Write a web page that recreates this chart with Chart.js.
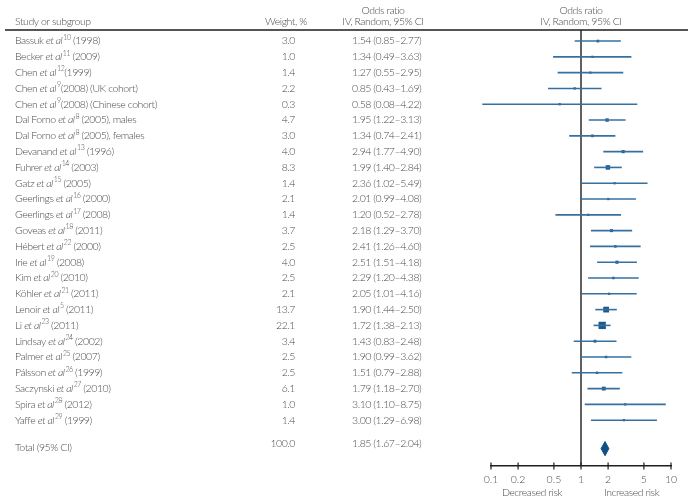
<!DOCTYPE html>
<html lang="en">
<head>
  <meta charset="UTF-8" />
  <title>Forest plot - odds ratios</title>
  <script src="https://cdn.jsdelivr.net/npm/chart.js"></script>
  <style>
    html, body {
      margin: 0;
      padding: 0;
      background: #fff;
    }
    .wrap {
      position: relative;
      width: 688px;
      height: 504px;
    }
  </style>
</head>
<body>
  <div class="wrap"><canvas id="forest"></canvas></div>

  <script>
    // study table
    const authors = ["Bassuk", "Becker", "Chen", "Chen", "Chen", "Dal Forno", "Dal Forno", "Devanand",
      "Fuhrer", "Gatz", "Geerlings", "Geerlings", "Goveas", "Hébert", "Irie", "Kim", "Köhler", "Lenoir",
      "Li", "Lindsay", "Palmer", "Pálsson", "Saczynski", "Spira", "Yaffe"];
    const refs = ["10", "11", "12", "9", "9", "8", "8", "13", "14", "15", "16", "17", "18", "22", "19",
      "20", "21", "5", "23", "24", "25", "26", "27", "28", "29"];
    const years = [" (1998)", " (2009)", "(1999)", "(2008) (UK cohort)", "(2008) (Chinese cohort)",
      " (2005), males", " (2005), females", " (1996)", " (2003)", " (2005)", " (2000)", " (2008)",
      " (2011)", " (2000)", " (2008)", " (2010)", " (2011)", " (2011)", " (2011)", " (2002)", " (2007)",
      " (1999)", " (2010)", " (2012)", " (1999)"];
    const weights = [3.0, 1.0, 1.4, 2.2, 0.3, 4.7, 3.0, 4.0, 8.3, 1.4, 2.1, 1.4, 3.7, 2.5, 4.0, 2.5, 2.1,
      13.7, 22.1, 3.4, 2.5, 2.5, 6.1, 1.0, 1.4];
    const oddsRatios = [1.54, 1.34, 1.27, 0.85, 0.58, 1.95, 1.34, 2.94, 1.99, 2.36, 2.01, 1.20, 2.18, 2.41,
      2.51, 2.29, 2.05, 1.90, 1.72, 1.43, 1.90, 1.51, 1.79, 3.10, 3.00];
    const ciLow = [0.85, 0.49, 0.55, 0.43, 0.08, 1.22, 0.74, 1.77, 1.40, 1.02, 0.99, 0.52, 1.29, 1.26, 1.51,
      1.20, 1.01, 1.44, 1.38, 0.83, 0.99, 0.79, 1.18, 1.10, 1.29];
    const ciHigh = [2.77, 3.63, 2.95, 1.69, 4.22, 3.13, 2.41, 4.90, 2.84, 5.49, 4.08, 2.78, 3.70, 4.60, 4.18,
      4.38, 4.16, 2.50, 2.13, 2.48, 3.62, 2.88, 2.70, 8.75, 6.98];

    const totalWeight = [100.0];
    const totalOR = [1.85];
    const totalCI = [1.67, 2.04];

    const xTicks = [0.1, 0.2, 0.5, 1, 2, 5, 10];

    const totalRow = 25.8;
    const fontFamily = "Lato, 'Open Sans', sans-serif";
    const baseFont = "300 10.5px " + fontFamily;
    const tightSpacing = "-0.45px";
    const textColor = "#4a4a4a";
    const ciColor = "#3570a1";
    const boxColor = "#195a8f";

    const fmt = v => v.toFixed(2);
    const ciText = (o, l, h) => fmt(o) + " (" + fmt(l) + "–" + fmt(h) + ")";

    // draws "Name et al^ref (year)" piece by piece
    function drawStudy(ctx, i, x, y) {
      const parts = [
        { t: authors[i] + " ", f: baseFont, dy: 0, gap: 0 },
        { t: "et al", f: "italic " + baseFont, dy: 0, gap: 1 },
        { t: refs[i], f: "300 7px " + fontFamily, dy: -3.5, gap: 0 },
        { t: years[i], f: baseFont, dy: 0, gap: 0 }
      ];
      for (const p of parts) {
        ctx.font = p.f;
        ctx.fillText(p.t, x, y + p.dy);
        x += ctx.measureText(p.t).width + p.gap;
      }
    }

    const forestText = {
      id: "forestText",
      beforeDatasetsDraw(chart) {
        const { ctx, chartArea, scales: { x } } = chart;
        const x1 = x.getPixelForValue(1);
        ctx.save();
        ctx.strokeStyle = "#1e1e1e";
        ctx.lineWidth = 1.4;
        ctx.beginPath();
        ctx.moveTo(5, chartArea.top);
        ctx.lineTo(chart.width, chartArea.top);
        ctx.moveTo(x1, chartArea.top);
        ctx.lineTo(x1, chartArea.bottom);
        ctx.stroke();
        // tick marks crossing the axis line
        ctx.lineWidth = 1.2;
        ctx.beginPath();
        for (const t of x.ticks) {
          const px = x.getPixelForValue(t.value);
          ctx.moveTo(px, chartArea.bottom - 3.5);
          ctx.lineTo(px, chartArea.bottom + 3.5);
        }
        ctx.stroke();
        ctx.restore();
      },
      afterDraw(chart) {
        const { ctx, scales: { x, y } } = chart;
        ctx.save();
        ctx.fillStyle = textColor;
        ctx.textBaseline = "middle";
        ctx.font = baseFont;
        ctx.letterSpacing = tightSpacing;

        // headers
        ctx.textAlign = "left";
        ctx.fillText("Study or subgroup", 15, 22);
        ctx.textAlign = "center";
        ctx.fillText("Weight, %", 286, 22);
        ctx.fillText("Odds ratio", 383, 11);
        ctx.fillText("IV, Random, 95% CI", 383, 22);
        const x1 = x.getPixelForValue(1);
        ctx.fillText("Odds ratio", x1, 11);
        ctx.fillText("IV, Random, 95% CI", x1, 22);

        // rows
        authors.forEach((a, i) => {
          const py = y.getPixelForValue(i);
          ctx.textAlign = "left";
          drawStudy(ctx, i, 15, py);
          ctx.font = baseFont;
          ctx.textAlign = "right";
          ctx.fillText(weights[i].toFixed(1), 295, py);
          ctx.textAlign = "left";
          ctx.fillText(ciText(oddsRatios[i], ciLow[i], ciHigh[i]), 352, py);
        });

        const ty = y.getPixelForValue(totalRow);
        ctx.textAlign = "left";
        ctx.fillText("Total (95% CI)", 15, ty - 1);
        ctx.textAlign = "right";
        ctx.fillText(totalWeight[0].toFixed(1), 295, ty - 5);
        ctx.textAlign = "left";
        ctx.fillText(ciText(totalOR[0], totalCI[0], totalCI[1]), 352, ty - 5);

        // risk captions under the axis
        ctx.textAlign = "center";
        ctx.fillText("Decreased risk", x.getPixelForValue(0.285), 493);
        ctx.fillText("Increased risk", x.getPixelForValue(3.65), 493);
        ctx.restore();
      }
    };

    const ciSets = authors.map((a, i) => ({
      data: [{ x: ciLow[i], y: i }, { x: ciHigh[i], y: i }],
      borderColor: ciColor,
      borderWidth: 1.6,
      pointRadius: 0,
      fill: false,
      clip: false
    }));

    const boxSet = {
      data: oddsRatios.map((v, i) => ({ x: v, y: i })),
      showLine: false,
      pointStyle: "rect",
      pointRadius: weights.map(w => Math.max(1.6, 1.1 * Math.sqrt(w))),
      pointBackgroundColor: boxColor,
      pointBorderWidth: 0,
      clip: false
    };

    const diamondSet = {
      data: [
        { x: totalCI[0], y: totalRow },
        { x: totalOR[0], y: totalRow - 0.45 },
        { x: totalCI[1], y: totalRow },
        { x: totalOR[0], y: totalRow + 0.45 },
        { x: totalCI[0], y: totalRow }
      ],
      borderColor: "#0f4f86",
      backgroundColor: "#0f4f86",
      borderWidth: 1,
      pointRadius: 0,
      fill: "shape",
      tension: 0
    };

    new Chart(document.getElementById("forest"), {
      type: "line",
      data: { datasets: [...ciSets, boxSet, diamondSet] },
      options: {
        responsive: true,
        maintainAspectRatio: false,
        animation: false,
        layout: { padding: { left: 491, right: 17, top: 30, bottom: 0 } },
        plugins: {
          legend: { display: false },
          tooltip: { enabled: false }
        },
        scales: {
          x: {
            type: "logarithmic",
            min: 0.1,
            max: 10,
            afterBuildTicks: scale => {
              scale.ticks = xTicks.map(v => ({ value: v }));
            },
            afterFit: scale => {
              scale.height = 38;
            },
            grid: { display: false, drawTicks: false },
            border: { display: true, color: "#1e1e1e", width: 1.4 },
            ticks: {
              autoSkip: false,
              maxRotation: 0,
              padding: 7,
              color: textColor,
              font: { family: fontFamily, size: 10.5, weight: 300 },
              callback: v => String(v)
            }
          },
          y: {
            type: "linear",
            reverse: true,
            min: -0.7,
            max: 26.9,
            display: false
          }
        }
      },
      plugins: [forestText]
    });
  </script>
</body>
</html>
